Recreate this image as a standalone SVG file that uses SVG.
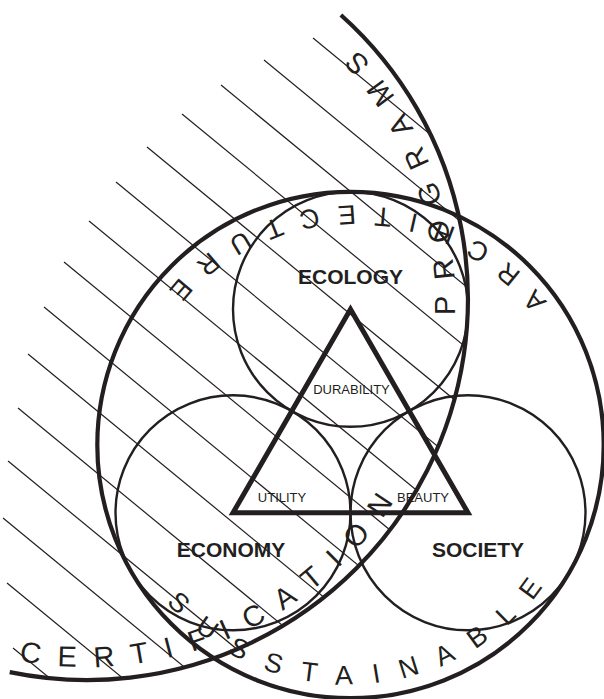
<svg xmlns="http://www.w3.org/2000/svg" width="604" height="699" viewBox="0 0 604 699">
<style>
.hatch line{stroke:#231f20;stroke-width:1.2}
.thick{fill:none;stroke:#231f20;stroke-width:4.2}
.thin{fill:none;stroke:#231f20;stroke-width:2.4}
.tri{fill:none;stroke:#231f20;stroke-width:5;stroke-linejoin:miter}
.lbl{font-family:"Liberation Sans",Arial,sans-serif;font-weight:bold;font-size:21px;fill:#231f20;text-anchor:middle}
.sm{font-family:"Liberation Sans",Arial,sans-serif;font-size:13px;fill:#231f20;text-anchor:middle}
.arc1{font-family:"Liberation Sans",Arial,sans-serif;font-size:29px;fill:#231f20}
.arc2{font-family:"Liberation Sans",Arial,sans-serif;font-size:27px;fill:#231f20}
</style>
<defs>
<clipPath id="certClip"><circle cx="87" cy="299" r="381"/></clipPath>
<path id="certPath" d="M-8.25,654.46 A368,368 0 0 0 182.25,-56.46 A368,368 0 0 0 -8.25,654.46"/>
<path id="bigPath" d="M140.1,566.5 A243,243 0 0 0 560.9,323.5 A243,243 0 0 0 140.1,566.5"/>
</defs>
<rect width="604" height="699" fill="#ffffff"/>
<g id="hatch" class="hatch" clip-path="url(#certClip)">
<line x1="313" y1="38" x2="931" y2="546"/>
<line x1="264" y1="60" x2="882" y2="568"/>
<line x1="221" y1="85" x2="839" y2="593"/>
<line x1="182" y1="114" x2="800" y2="622"/>
<line x1="147" y1="147" x2="765" y2="655"/>
<line x1="116" y1="182" x2="734" y2="690"/>
<line x1="89" y1="221" x2="707" y2="729"/>
<line x1="64" y1="262" x2="682" y2="770"/>
<line x1="44" y1="307" x2="662" y2="815"/>
<line x1="28" y1="354" x2="646" y2="862"/>
<line x1="18" y1="408" x2="636" y2="916"/>
<line x1="8" y1="461" x2="626" y2="969"/>
<line x1="3" y1="518" x2="621" y2="1026"/>
<line x1="7" y1="583" x2="625" y2="1091"/>
<line x1="13" y1="648" x2="631" y2="1156"/>
</g>
<g id="certification-programs">
<path class="thick" d="M9.7,672.1 A381,381 0 0 0 340.9,15"/>
<text class="arc1" letter-spacing="17.6"><textPath href="#certPath" startOffset="28.1">CERTIFICATION</textPath></text>
<text class="arc1" letter-spacing="17.2"><textPath href="#certPath" startOffset="658">PROGRAMS</textPath></text>
</g>
<g id="sustainable-architecture">
<circle class="thick" cx="350.5" cy="445" r="253.2"/>
<text class="arc2" letter-spacing="20.8"><textPath href="#bigPath" startOffset="44.7">SUSSTAINABLE</textPath></text>
<text class="arc2" letter-spacing="20.2"><textPath href="#bigPath" startOffset="780.1">ARCHITECTURE</textPath></text>
</g>
<g id="ecology">
<circle class="thin" cx="350.5" cy="309.3" r="117.5"/>
<text class="lbl" x="350.5" y="284">ECOLOGY</text>
</g>
<g id="economy">
<circle class="thin" cx="233" cy="512.8" r="117.5"/>
<text class="lbl" x="231" y="557">ECONOMY</text>
</g>
<g id="society">
<circle class="thin" cx="468" cy="512.8" r="117.5"/>
<text class="lbl" x="478" y="557">SOCIETY</text>
</g>
<g id="triangle">
<polygon class="tri" points="350.5,309.3 468,512.8 233,512.8"/>
<text class="sm" x="351.5" y="394">DURABILITY</text>
<text class="sm" x="282" y="502">UTILITY</text>
<text class="sm" x="423" y="502">BEAUTY</text>
</g>
</svg>
